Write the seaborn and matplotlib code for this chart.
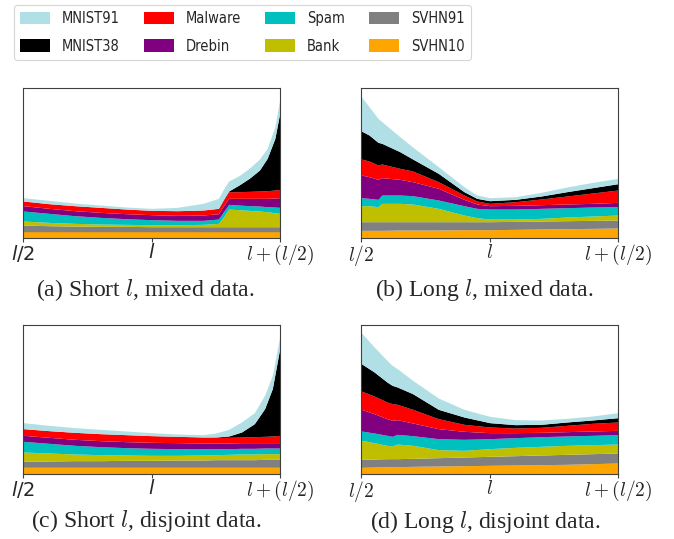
import matplotlib
matplotlib.use("Agg")
import matplotlib.pyplot as plt
from matplotlib.patches import Patch
import seaborn as sns

sns.set_theme(style="white")
plt.rcParams["mathtext.fontset"] = "cm"
plt.rcParams["font.family"] = ["DejaVu Sans"]

# ---- data ----
series_names = ["SVHN10", "SVHN91", "Bank", "Spam", "Drebin", "Malware", "MNIST38", "MNIST91"]
series_colors = ["#FFA500", "#808080", "#BFBF00", "#00BFBF", "#800080", "#FF0000", "#000000", "#B0E0E6"]
legend_order = ["MNIST91", "MNIST38", "Malware", "Drebin", "Spam", "Bank", "SVHN91", "SVHN10"]

# (a) Short l, mixed data
x_a = [0.50, 0.60, 0.70, 0.80, 0.90, 1.00, 1.10, 1.20, 1.26, 1.28, 1.30, 1.34, 1.38, 1.42, 1.45, 1.48, 1.50]
svhn10_a = [18, 18, 18, 18, 18, 18, 18, 18, 18, 18, 18, 18, 18, 18, 18, 18, 18]
svhn91_a = [20, 18, 17, 16, 16, 15, 15, 15, 15, 15, 15, 15, 15, 15, 15, 15, 15]
bank_a = [12, 10, 8, 7, 6, 6, 6, 7, 10, 30, 53, 51, 49, 47, 45, 42, 40]
spam_a = [30, 27, 23, 20, 17, 15, 13, 12, 13, 15, 14, 14, 14, 15, 15, 17, 18]
drebin_a = [16, 15, 15, 15, 15, 15, 15, 16, 16, 18, 18, 20, 22, 23, 25, 27, 29]
malware_a = [14, 14, 15, 15, 14, 13, 14, 15, 16, 17, 20, 20, 21, 22, 23, 24, 25]
mnist38_a = [0, 0, 0, 0, 0, 0, 0, 0, 0, 2, 2, 20, 39, 63, 97, 155, 233]
mnist91_a = [10, 10, 8, 7, 6, 6, 10, 20, 30, 31, 30, 28, 30, 33, 30, 35, 40]

# (b) Long l, mixed data
x_b = [0.50, 0.53, 0.565, 0.58, 0.65, 0.70, 0.80, 0.90, 0.95, 1.00, 1.10, 1.20, 1.30, 1.40, 1.50]
svhn10_b = [22, 22, 22, 22, 23, 23, 23, 24, 24, 24, 25, 26, 27, 28, 29]
svhn91_b = [26, 26, 26, 26, 25, 25, 25, 24, 24, 24, 24, 24, 24, 24, 24]
bank_b = [48, 48, 45, 55, 55, 53, 40, 20, 12, 8, 7, 8, 11, 13, 15]
spam_b = [24, 22, 22, 25, 25, 25, 25, 28, 28, 30, 30, 30, 28, 27, 25]
drebin_b = [68, 65, 60, 52, 47, 42, 35, 19, 13, 10, 11, 11, 11, 11, 13]
malware_b = [48, 47, 43, 41, 33, 32, 20, 13, 9, 7, 11, 17, 24, 31, 37]
mnist38_b = [84, 78, 68, 62, 50, 36, 25, 10, 8, 8, 7, 9, 13, 16, 19]
mnist91_b = [103, 85, 72, 65, 45, 36, 20, 15, 10, 9, 8, 11, 14, 16, 16]

# (c) Short l, disjoint data
x_c = [0.50, 0.60, 0.70, 0.80, 0.90, 1.00, 1.10, 1.20, 1.25, 1.30, 1.35, 1.40, 1.44, 1.47, 1.50]
svhn10_c = [21, 21, 21, 21, 21, 21, 21, 21, 21, 21, 21, 21, 21, 21, 21]
svhn91_c = [17, 18, 19, 19, 20, 20, 21, 21, 22, 22, 22, 22, 23, 23, 23]
bank_c = [28, 24, 20, 18, 16, 15, 14, 15, 15, 16, 17, 17, 17, 17, 17]
spam_c = [32, 29, 26, 24, 22, 21, 20, 19, 18, 17, 17, 17, 17, 17, 17]
drebin_c = [18, 18, 18, 18, 18, 18, 18, 17, 17, 17, 17, 17, 16, 16, 16]
malware_c = [20, 20, 21, 21, 21, 20, 19, 18, 17, 17, 17, 18, 19, 20, 22]
mnist38_c = [0, 0, 0, 0, 0, 0, 0, 0, 1, 4, 15, 39, 83, 142, 265]
mnist91_c = [18, 16, 14, 13, 11, 9, 7, 7, 12, 20, 30, 33, 40, 40, 35]

# (d) Long l, disjoint data
x_d = [0.50, 0.55, 0.60, 0.62, 0.64, 0.70, 0.80, 0.90, 1.00, 1.10, 1.20, 1.30, 1.40, 1.50]
svhn10_d = [20, 21, 22, 22, 22, 23, 24, 25, 26, 27, 28, 29, 31, 33]
svhn91_d = [24, 24, 24, 24, 24, 24, 25, 26, 27, 28, 29, 30, 30, 30]
bank_d = [57, 49, 40, 38, 44, 39, 24, 20, 23, 25, 26, 27, 27, 27]
spam_d = [28, 29, 30, 29, 29, 29, 33, 33, 30, 29, 29, 28, 28, 28]
drebin_d = [65, 58, 50, 48, 44, 38, 30, 24, 18, 15, 13, 13, 13, 13]
malware_d = [55, 53, 50, 50, 46, 41, 30, 21, 17, 14, 15, 19, 23, 25]
mnist38_d = [82, 72, 60, 55, 52, 47, 28, 22, 13, 10, 9, 10, 10, 13]
mnist91_d = [93, 75, 65, 60, 55, 40, 34, 23, 19, 15, 13, 11, 12, 15]

tick_pos = [0.5, 1.0, 1.5]
tick_labels = ["$l/2$", "$l$", "$l+(l/2)$"]
captions = ["(a) Short $l$, mixed data.", "(b) Long $l$, mixed data.",
            "(c) Short $l$, disjoint data.", "(d) Long $l$, disjoint data."]
y_max = [448, 448, 446, 446]

panels = [
    (x_a, [svhn10_a, svhn91_a, bank_a, spam_a, drebin_a, malware_a, mnist38_a, mnist91_a]),
    (x_b, [svhn10_b, svhn91_b, bank_b, spam_b, drebin_b, malware_b, mnist38_b, mnist91_b]),
    (x_c, [svhn10_c, svhn91_c, bank_c, spam_c, drebin_c, malware_c, mnist38_c, mnist91_c]),
    (x_d, [svhn10_d, svhn91_d, bank_d, spam_d, drebin_d, malware_d, mnist38_d, mnist91_d]),
]

W, H = 674, 539
fig = plt.figure(figsize=(W / 100, H / 100), dpi=100)

# axes boxes in pixels: left, top, right, bottom
boxes = [(23.3, 88.3, 280, 237.7), (361.3, 88.3, 618, 237.7),
         (23.3, 325.3, 280, 474), (361.3, 325.3, 618, 474)]
cap_pos = [(145, 290), (484, 290), (146, 521), (485, 522)]

for i, ((x, layers), box) in enumerate(zip(panels, boxes)):
    l, t, r, b = box
    ax = fig.add_axes([l / W, 1 - b / H, (r - l) / W, (b - t) / H])
    ax.stackplot(x, *layers, colors=series_colors, linewidth=0)
    ax.set_xlim(0.5, 1.5)
    ax.set_ylim(0, y_max[i])
    ax.set_yticks([])
    ax.set_xticks(tick_pos)
    ax.set_xticklabels(tick_labels, fontsize=14)
    ax.tick_params(axis="x", bottom=True, direction="out", length=3, width=0.8,
                   color="0.25", pad=0.5)
    for lbl_i, lbl in enumerate(ax.get_xticklabels()):
        if i in (0, 2) and lbl_i < 2:
            lbl.set_math_fontfamily("dejavusans")
        else:
            lbl.set_math_fontfamily("cm")
    for s in ax.spines.values():
        s.set_color("0.25")
        s.set_linewidth(0.8)
    cx, cy = cap_pos[i]
    fig.text(cx / W, 1 - cy / H, captions[i], ha="center", va="center",
             fontsize=17, family=["Liberation Serif", "DejaVu Serif"])

# legend
color_map = dict(zip(series_names, series_colors))
handles = [Patch(facecolor=color_map[n], edgecolor="none", label=n) for n in legend_order]
leg = fig.legend(handles=handles, ncol=4, loc="upper left",
                 bbox_to_anchor=(14 / W, 1 - 5 / H), bbox_transform=fig.transFigure,
                 borderaxespad=0, frameon=True, fancybox=True,
                 prop={"family": "DejaVu Sans", "stretch": "condensed", "size": 10.5},
                 handlelength=2.05, handleheight=0.96, handletextpad=0.82,
                 columnspacing=1.65, labelspacing=0.85, borderpad=0.42)
leg.get_frame().set_edgecolor("0.8")
leg.get_frame().set_linewidth(0.8)

fig.savefig("out.png", dpi=100)
